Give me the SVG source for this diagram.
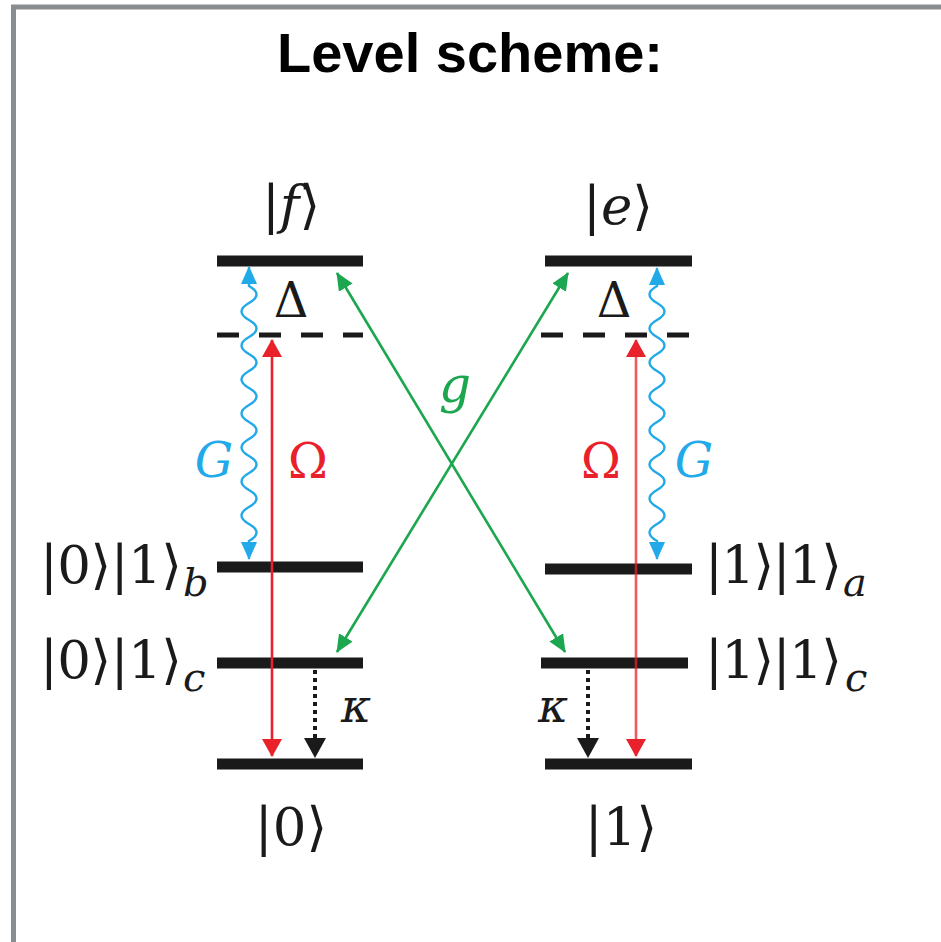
<svg xmlns="http://www.w3.org/2000/svg" width="941" height="942" viewBox="0 0 941 942">
<style>
.bar{stroke:#1a1a1a;stroke-width:11;fill:none}
.dash{stroke:#1a1a1a;stroke-width:5;stroke-dasharray:22 20;fill:none}
.m{font-size:53px;fill:#1a1a1a}
.gr{font-size:48px}
.sub{font-size:40px;font-style:italic;fill:#1a1a1a}
.it{font-style:italic}
.red{stroke:#e8212b;stroke-width:2.6;fill:none}
.green{stroke:#1ba64f;stroke-width:2.6;fill:none}
.blue{stroke:#22a9e8;stroke-width:2.4;fill:none}
.kap{stroke:#1a1a1a;stroke-width:4;fill:none;stroke-dasharray:4 4}
</style>
<defs>
<marker id="mr" viewBox="0 0 18 20" refX="17" refY="10" markerWidth="18" markerHeight="20" markerUnits="userSpaceOnUse" orient="auto-start-reverse"><path d="M0 0 L18 10 L0 20 Z" fill="#e8212b"/></marker>
<marker id="mg" viewBox="0 0 18 16" refX="17" refY="8" markerWidth="18" markerHeight="16" markerUnits="userSpaceOnUse" orient="auto-start-reverse"><path d="M0 0 L18 8 L0 16 Z" fill="#1ba64f"/></marker>
<marker id="mb" viewBox="0 0 18 16" refX="17" refY="8" markerWidth="18" markerHeight="16" markerUnits="userSpaceOnUse" orient="auto-start-reverse"><path d="M0 0 L18 8 L0 16 Z" fill="#22a9e8"/></marker>
<marker id="mk" viewBox="0 0 20 22" refX="19" refY="11" markerWidth="20" markerHeight="22" markerUnits="userSpaceOnUse" orient="auto"><path d="M0 0 L20 11 L0 22 Z" fill="#1a1a1a"/></marker>
</defs>
<rect width="941" height="942" fill="#ffffff"/>
<g id="frame"><path d="M13.5 942 V7 H941" fill="none" stroke="#8a8d90" stroke-width="5"/></g>
<g id="title"><text x="470" y="72" text-anchor="middle" font-family="Liberation Sans, Arial, sans-serif" font-weight="bold" font-size="56" fill="#000">Level scheme:</text></g>
<g font-family="'DejaVu Serif', 'Liberation Serif', serif">
<g id="level-f"><line class="bar" x1="217" y1="261" x2="363" y2="261"/><text class="m" x="291" y="223" text-anchor="middle">|<tspan class="it">f</tspan>⟩</text></g>
<g id="level-e"><line class="bar" x1="545" y1="261" x2="692" y2="261"/><text class="m" x="618" y="224" text-anchor="middle">|<tspan class="it">e</tspan>⟩</text></g>
<g id="virtual-left"><line class="dash" x1="217" y1="335" x2="363" y2="335"/><text class="m gr" x="291" y="317" text-anchor="middle">Δ</text></g>
<g id="virtual-right"><line class="dash" x1="541" y1="335" x2="689" y2="335"/><text class="m gr" x="614" y="317" text-anchor="middle">Δ</text></g>
<g id="level-01b"><line class="bar" x1="217" y1="567" x2="363" y2="567"/><text class="m" x="40" y="583" textLength="142" lengthAdjust="spacing">|0⟩|1⟩</text><text class="sub" x="183" y="596">b</text></g>
<g id="level-01c"><line class="bar" x1="217" y1="663" x2="363" y2="663"/><text class="m" x="40" y="678" textLength="142" lengthAdjust="spacing">|0⟩|1⟩</text><text class="sub" x="183" y="691">c</text></g>
<g id="level-0"><line class="bar" x1="217" y1="764" x2="363" y2="764"/><text class="m" x="291" y="845" text-anchor="middle">|0⟩</text></g>
<g id="level-11a"><line class="bar" x1="545" y1="569" x2="692" y2="569"/><text class="m" x="705" y="583" textLength="137" lengthAdjust="spacing">|1⟩|1⟩</text><text class="sub" x="843" y="596">a</text></g>
<g id="level-11c"><line class="bar" x1="541" y1="663" x2="688" y2="663"/><text class="m" x="705" y="678" textLength="137" lengthAdjust="spacing">|1⟩|1⟩</text><text class="sub" x="845" y="691">c</text></g>
<g id="level-1"><line class="bar" x1="545" y1="764" x2="692" y2="764"/><text class="m" x="621" y="845" text-anchor="middle">|1⟩</text></g>
</g>
<g id="connectors">
<line class="red" x1="272" y1="340" x2="272" y2="756" marker-start="url(#mr)" marker-end="url(#mr)"/>
<line class="red" x1="636" y1="340" x2="636" y2="756" stroke-opacity="0.75" marker-start="url(#mr)" marker-end="url(#mr)"/>
<line class="green" x1="337" y1="652" x2="568" y2="273" marker-start="url(#mg)" marker-end="url(#mg)"/>
<line class="green" x1="337" y1="273" x2="565" y2="652" marker-start="url(#mg)" marker-end="url(#mg)"/>
<path class="blue" d="M249 267 L249 286 q 15 8.5 0 17 t 0 17 t 0 17 t 0 17 t 0 17 t 0 17 t 0 17 t 0 17 t 0 17 t 0 17 t 0 17 t 0 17 t 0 17 t 0 17 t 0 17 L249 559" marker-start="url(#mb)" marker-end="url(#mb)"/>
<path class="blue" d="M657 268 L657 286 q -15 8.5 0 17 t 0 17 t 0 17 t 0 17 t 0 17 t 0 17 t 0 17 t 0 17 t 0 17 t 0 17 t 0 17 t 0 17 t 0 17 t 0 17 t 0 17 L657 559" marker-start="url(#mb)" marker-end="url(#mb)"/>
<line class="kap" x1="315" y1="670" x2="315" y2="757" marker-end="url(#mk)"/>
<line class="kap" x1="588" y1="670" x2="588" y2="757" marker-end="url(#mk)"/>
</g>
<g id="labels" font-family="'DejaVu Serif', 'Liberation Serif', serif">
<text class="m gr it" x="214" y="477" text-anchor="middle" style="fill:#22a9e8">G</text>
<text class="m gr it" x="694" y="477" text-anchor="middle" style="fill:#22a9e8">G</text>
<text class="m gr" x="308" y="478" text-anchor="middle" style="fill:#e8212b">Ω</text>
<text class="m gr" x="601" y="478" text-anchor="middle" style="fill:#e8212b">Ω</text>
<text class="m it" x="455" y="402" text-anchor="middle" style="font-size:50px;fill:#1ba64f">g</text>
<text class="m it" x="356" y="722" text-anchor="middle" style="font-size:46px">κ</text>
<text class="m it" x="553" y="722" text-anchor="middle" style="font-size:46px">κ</text>
</g>
</svg>
